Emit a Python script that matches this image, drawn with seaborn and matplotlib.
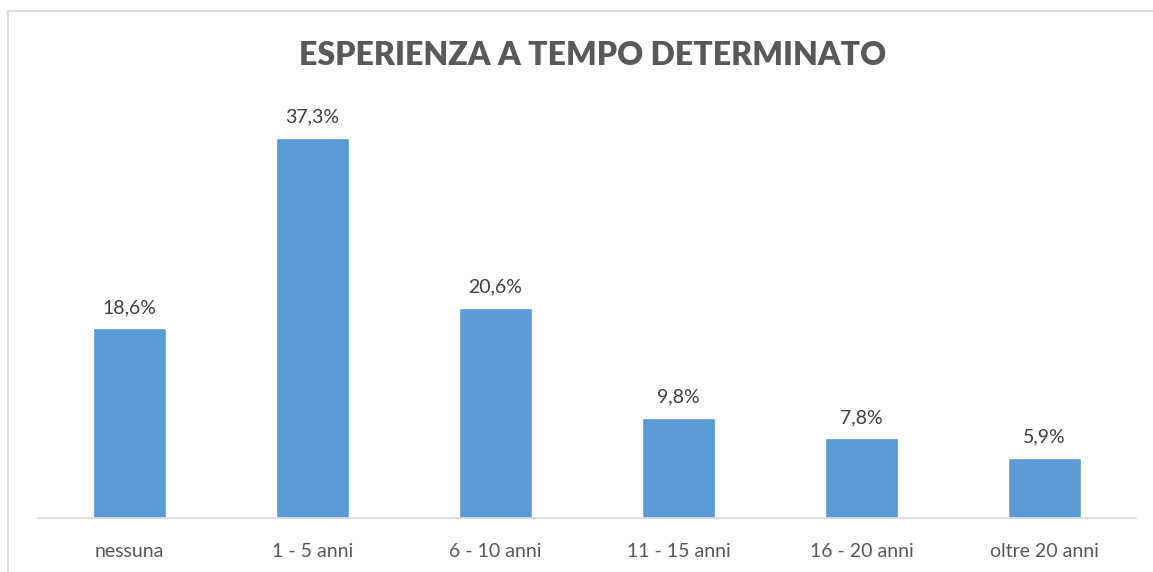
import matplotlib
matplotlib.use("Agg")
import matplotlib.pyplot as plt
import seaborn as sns
import pandas as pd
from matplotlib.patches import Rectangle

categories = ["nessuna", "1 - 5 anni", "6 - 10 anni", "11 - 15 anni", "16 - 20 anni", "oltre 20 anni"]
values = [18.6, 37.3, 20.6, 9.8, 7.8, 5.9]
title = "ESPERIENZA A TEMPO DETERMINATO"

df = pd.DataFrame({"cat": categories, "val": values})

sns.set_style("white")
plt.rcParams["font.family"] = ["Lato", "DejaVu Sans"]

fig = plt.figure(figsize=(11.53, 5.72), dpi=100)
ax = fig.add_axes([0.033, 0.0944, 0.9523, 0.7133])

sns.barplot(data=df, x="cat", y="val", color="#5B9BD5", saturation=1, width=0.4, ax=ax)

for i, v in enumerate(values):
    ax.text(i, v + 1.2, f"{v:.1f}%".replace(".", ","), ha="center", va="bottom",
            fontsize=14, color="#404040")

ax.set_ylim(0, 40)
ax.set_xlim(-0.5, len(categories) - 0.5)
ax.set_xlabel("")
ax.set_ylabel("")
ax.set_yticks([])
ax.tick_params(axis="x", length=0, labelsize=14, labelcolor="#595959", pad=18)
for s in ["top", "left", "right"]:
    ax.spines[s].set_visible(False)
ax.spines["bottom"].set_color("#D9D9D9")
ax.spines["bottom"].set_linewidth(1.2)

fig.text(0.514, 0.903, title, ha="center", va="center", fontsize=23, fontweight="heavy", color="#595959")

fig.patches.append(Rectangle((8 / 1153, -0.01), 1.0, 1 - 11 / 572 + 0.01, transform=fig.transFigure,
                             fill=False, edgecolor="#D9D9D9", linewidth=1.2))

fig.savefig("out.png", dpi=100)
